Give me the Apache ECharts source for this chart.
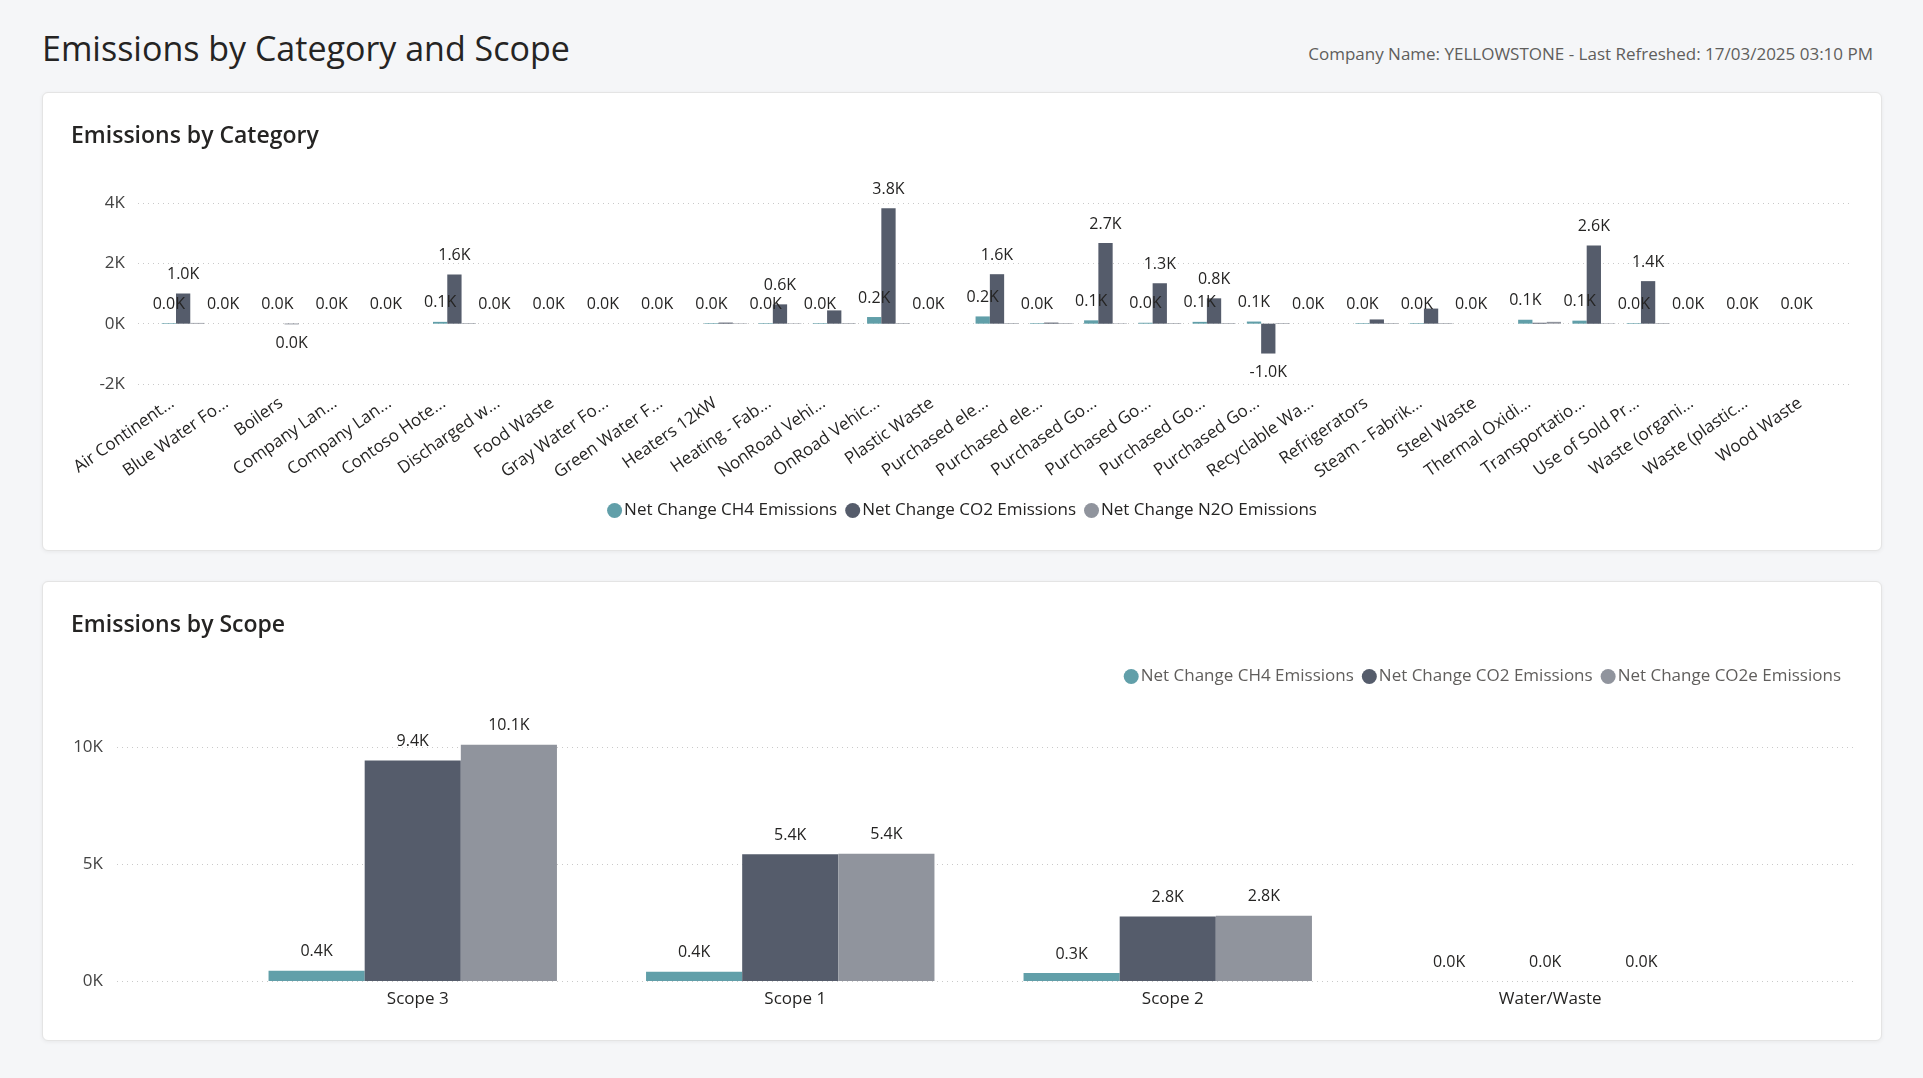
<!DOCTYPE html>
<html>
<head>
<meta charset="utf-8">
<title>Emissions by Category and Scope</title>
<script src="https://cdn.jsdelivr.net/npm/echarts@6/dist/echarts.min.js"></script>
<style>
  html, body { margin: 0; padding: 0; }
  body {
    width: 1923px; height: 1078px; position: relative; overflow: hidden;
    background: #f5f6f8; font-family: "Open Sans", "Noto Sans", sans-serif; color: #252423;
  }
  .page-title { position: absolute; left: 42px; top: 24px; font-size: 34px; font-weight: 400; margin: 0; line-height: 48px; }
  .refresh { position: absolute; right: 50px; top: 42px; font-size: 17px; color: #605e5c; line-height: 24px; }
  .card {
    position: absolute; left: 42px; width: 1838px; background: #fff;
    border: 1px solid #e4e4e4; border-radius: 6px; box-shadow: 0 1px 4px rgba(0,0,0,0.06);
  }
  .card h2 { position: absolute; left: 28px; top: 26px; margin: 0; font-size: 23px; font-weight: 600; line-height: 30px; z-index: 2; }
  .chart { position: absolute; left: 0; top: 0; right: 0; bottom: 0; }
</style>
</head>
<body>
<h1 class="page-title">Emissions by Category and Scope</h1>
<div class="refresh">Company Name: YELLOWSTONE - Last Refreshed: 17/03/2025 03:10 PM</div>

<div class="card" style="top:92px;height:457px;">
  <h2>Emissions by Category</h2>
  <div id="catChart" class="chart"></div>
</div>
<div class="card" style="top:581px;height:458px;">
  <h2>Emissions by Scope</h2>
  <div id="scopeChart" class="chart"></div>
</div>

<script>
// ---- data: emissions by category ----
var categories = ['Air Continent...', 'Blue Water Fo...', 'Boilers', 'Company Lan...', 'Company Lan...',
    'Contoso Hote...', 'Discharged w...', 'Food Waste', 'Gray Water Fo...', 'Green Water F...',
    'Heaters 12kW', 'Heating - Fab...', 'NonRoad Vehi...', 'OnRoad Vehic...', 'Plastic Waste',
    'Purchased ele...', 'Purchased ele...', 'Purchased Go...', 'Purchased Go...', 'Purchased Go...',
    'Purchased Go...', 'Recyclable Wa...', 'Refrigerators', 'Steam - Fabrik...', 'Steel Waste',
    'Thermal Oxidi...', 'Transportatio...', 'Use of Sold Pr...', 'Waste (organi...', 'Waste (plastic...',
    'Wood Waste'];
var catCH4 = [20, 0, 0, 0, 0, 60, 0, 0, 0, 0, 20, 20, 20, 220, 0, 240, 20, 110, 30, 60,
    70, 0, 20, 20, 0, 130, 100, 20, 0, 0, 0];
var catCO2 = [1000, 0, -20, 0, 0, 1630, 0, 0, 0, 0, 35, 640, 440, 3830, 0, 1640, 35, 2670, 1340, 840,
    -990, 0, 140, 500, 0, 30, 2590, 1410, 0, 0, 0];
var catN2O = [25, 0, 0, 0, 0, 20, 0, 0, 0, 0, 15, 15, 20, 20, 0, 20, 20, 15, 20, 20,
    20, 0, 20, 20, 0, 60, 15, 20, 0, 0, 0];
var catTicks = [-2000, 0, 2000, 4000];

// ---- data: emissions by scope ----
var scopes = ['Scope 3', 'Scope 1', 'Scope 2', 'Water/Waste'];
var scopeCH4 = [440, 400, 340, 0];
var scopeCO2 = [9420, 5420, 2760, 0];
var scopeCO2e = [10100, 5440, 2790, 0];
var scopeTicks = [0, 5000, 10000];

var colors = ['#619fa9', '#555c6b', '#90949d'];
var textColor = '#252423';
var fontFamily = '"Open Sans", "Noto Sans", sans-serif';

function fmtK(v) {
    var s = (v / 1000).toFixed(1);
    if (s === '-0.0') s = '0.0';
    return s + 'K';
}

function barItems(vals, showFn) {
    return vals.map(function (v) {
        return {
            value: v,
            label: { show: showFn(v), position: v < 0 ? 'bottom' : 'top' }
        };
    });
}

function baseLabel() {
    return {
        distance: 11,
        color: textColor,
        fontSize: 16,
        fontFamily: fontFamily,
        formatter: function (p) { return fmtK(p.value); }
    };
}

function gridAxes(minV, maxV, step, labelMargin) {
    return {
        xAxis: { gridIndex: 0, type: 'category', data: [], show: false },
        yAxis: {
            gridIndex: 0, type: 'value', min: minV, max: maxV, interval: step,
            axisLine: { show: false }, axisTick: { show: false },
            axisLabel: {
                margin: labelMargin, color: '#444', fontSize: 17, fontFamily: fontFamily,
                formatter: function (v) { return (v / 1000) + 'K'; }
            },
            splitLine: { lineStyle: { color: '#c9c9c9', type: [1, 4], width: 1 } }
        }
    };
}

// ---- chart 1: by category ----
var catChart = echarts.init(document.getElementById('catChart'));
var g1 = gridAxes(catTicks[0], catTicks[catTicks.length - 1], catTicks[1] - catTicks[0], 13);
catChart.setOption({
    animation: false,
    color: colors,
    textStyle: { fontFamily: fontFamily },
    legend: {
        top: 404, left: 'center',
        icon: 'circle', itemWidth: 15, itemHeight: 15, itemGap: 8,
        textStyle: { color: textColor, fontSize: 17, padding: [0, 0, 0, -3] },
        data: ['Net Change CH4 Emissions', 'Net Change CO2 Emissions', 'Net Change N2O Emissions']
    },
    grid: [
        { left: 95, right: 28, top: 110, bottom: 166 },
        { left: 113, right: 43, top: 110, bottom: 166 }
    ],
    xAxis: [
        g1.xAxis,
        {
            gridIndex: 1, type: 'category', data: categories,
            axisLine: { show: false, onZero: false }, axisTick: { show: false },
            axisLabel: {
                interval: 0, rotate: 35, margin: 10, padding: [0, 13, 0, 0],
                color: textColor, fontSize: 17, fontFamily: fontFamily
            }
        }
    ],
    yAxis: [
        g1.yAxis,
        { gridIndex: 1, type: 'value', min: -2000, max: 4000, interval: 2000, show: false, splitLine: { show: false } }
    ],
    series: [
        {
            name: 'Net Change CH4 Emissions', type: 'bar', xAxisIndex: 1, yAxisIndex: 1,
            barGap: '0%', barCategoryGap: '21%',
            label: baseLabel(),
            data: barItems(catCH4, function () { return true; })
        },
        {
            name: 'Net Change CO2 Emissions', type: 'bar', xAxisIndex: 1, yAxisIndex: 1,
            barGap: '0%', barCategoryGap: '21%',
            label: baseLabel(),
            // labels close to the CH4 label are dropped, as in the report
            data: barItems(catCO2, function (v) { return v < 0 || v >= 580; })
        },
        {
            name: 'Net Change N2O Emissions', type: 'bar', xAxisIndex: 1, yAxisIndex: 1,
            barGap: '0%', barCategoryGap: '21%',
            label: baseLabel(),
            data: barItems(catN2O, function () { return false; })
        }
    ]
});

// ---- chart 2: by scope ----
var scopeChart = echarts.init(document.getElementById('scopeChart'));
var g2 = gridAxes(scopeTicks[0], scopeTicks[scopeTicks.length - 1], scopeTicks[1] - scopeTicks[0], 14);
scopeChart.setOption({
    animation: false,
    color: colors,
    textStyle: { fontFamily: fontFamily },
    legend: {
        top: 81, right: 35,
        icon: 'circle', itemWidth: 15, itemHeight: 15, itemGap: 8,
        textStyle: { color: '#605e5c', fontSize: 17, padding: [0, 0, 0, -3] },
        data: ['Net Change CH4 Emissions', 'Net Change CO2 Emissions', 'Net Change CO2e Emissions']
    },
    grid: [
        { left: 74, right: 28, top: 165, bottom: 59 },
        { left: 181, right: 147, top: 165, bottom: 59 }
    ],
    xAxis: [
        g2.xAxis,
        {
            gridIndex: 1, type: 'category', data: scopes,
            axisLine: { show: false }, axisTick: { show: false },
            axisLabel: { margin: 10, padding: [0, 0, 0, 10], color: textColor, fontSize: 17, fontFamily: fontFamily }
        }
    ],
    yAxis: [
        g2.yAxis,
        { gridIndex: 1, type: 'value', min: 0, max: 10000, interval: 5000, show: false, splitLine: { show: false } }
    ],
    series: [
        {
            name: 'Net Change CH4 Emissions', type: 'bar', xAxisIndex: 1, yAxisIndex: 1,
            barGap: '0%', barCategoryGap: '23.6%', clip: false,
            label: baseLabel(),
            data: barItems(scopeCH4, function () { return true; })
        },
        {
            name: 'Net Change CO2 Emissions', type: 'bar', xAxisIndex: 1, yAxisIndex: 1,
            barGap: '0%', barCategoryGap: '23.6%', clip: false,
            label: baseLabel(),
            data: barItems(scopeCO2, function () { return true; })
        },
        {
            name: 'Net Change CO2e Emissions', type: 'bar', xAxisIndex: 1, yAxisIndex: 1,
            barGap: '0%', barCategoryGap: '23.6%', clip: false,
            label: baseLabel(),
            data: barItems(scopeCO2e, function () { return true; })
        }
    ]
});
</script>
</body>
</html>
